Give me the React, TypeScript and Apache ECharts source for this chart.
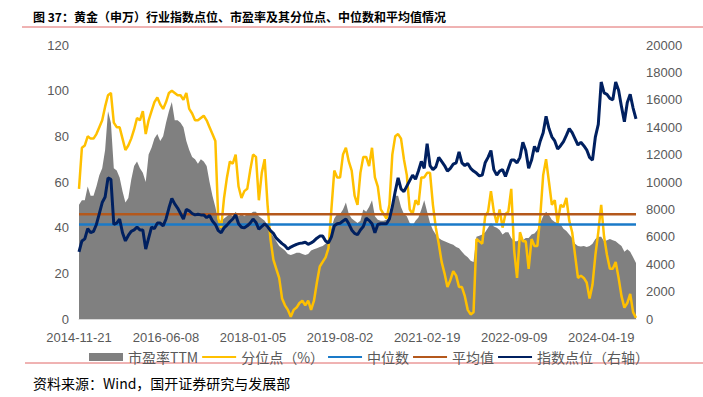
import React, { useEffect, useRef } from "react";
import * as echarts from "echarts";

const titleText = "图 37：黄金（申万）行业指数点位、市盈率及其分位点、中位数和平均值情况";
const sourceText = "资料来源：Wind，国开证券研究与发展部";

const tickLabels = ["2014-11-21", "2016-06-08", "2018-01-05", "2019-08-02", "2021-02-19", "2022-09-09", "2024-04-19"];
const POINTS_PER_SPAN = 30;
const TAIL_POINTS = 12;

const seriesNames = ["市盈率TTM", "分位点（%）", "中位数", "平均值", "指数点位（右轴）"];

// 市盈率TTM (left axis)
const peTTM = [
  50, 52, 52, 58, 54, 54, 58, 63, 66, 74,
  91, 86, 66, 65, 62, 56, 51, 53, 61, 67,
  69, 66, 64, 60, 72, 75, 79, 81, 78, 80,
  86, 91, 95, 87, 87, 86, 84, 78, 74, 71,
  70, 68, 70, 69, 67, 60, 54, 49, 43, 43,
  44, 45, 46, 45, 47, 45, 46, 45, 46, 46,
  47, 47, 45, 44, 43, 41, 38, 36, 34, 32,
  31, 30, 28.5, 28, 28.5, 29, 29, 28.5, 28, 28.5,
  30, 30.5, 31, 31.5, 32, 33, 35, 40, 44, 46,
  46, 48, 51, 46, 44, 43, 42, 43, 48, 47,
  49, 52, 45, 43.5, 43, 43, 43.5, 44.5, 51, 54,
  54, 49, 46, 45, 42, 41, 43, 44.5, 48, 52,
  47, 42, 39, 37, 35.5, 34.6, 34, 33.5, 33, 32.5,
  31.5, 31, 29.5, 28, 27, 25.5, 25, 36, 36.5, 37,
  38, 40, 42, 40.5, 40, 39, 37, 38, 38, 35.5,
  34, 34, 35, 34.5, 35.5, 35.5, 37, 37.5, 39, 42,
  45, 47, 45.5, 43.5, 42.5, 42, 41.5, 39.5, 38.5, 37,
  35.5, 33, 32, 31.7, 32, 31.5, 32, 33, 35, 36,
  36, 34, 34.5, 35, 34.5, 34, 33, 32, 29.5, 30.5,
  29.5, 27, 24.5,
];

// 分位点（%） (left axis)
const percentile = [
  57, 75, 76, 80, 79, 79, 81, 84, 87, 93,
  98, 99, 86, 84, 84, 79, 74, 76, 79, 83,
  88, 87, 91, 81, 87, 91, 95, 97, 94, 92,
  95, 99, 100, 99, 98, 98, 96, 99, 92, 90,
  87, 87, 88, 89, 87, 84, 81, 78, 44, 40,
  53, 62, 69, 68, 72, 58, 53, 56, 57, 65,
  72, 71, 52, 64, 70, 50, 35, 26, 22, 18,
  9, 6, 4, 1, 4, 5, 7, 8, 6, 8,
  4, 8, 16, 23, 25, 27, 31, 48, 65, 62,
  62, 72, 75, 69, 65, 54, 50, 64, 71, 71,
  67, 75, 62, 58, 48, 46, 44, 50, 72, 80,
  81, 79, 70, 63, 48, 46, 52, 50, 62, 62,
  64, 64, 50, 40, 33, 25, 20, 14, 17, 21,
  19, 14, 14, 10, 4, 2, 3, 35, 34, 33,
  45, 47, 56, 47, 42, 48, 40, 46, 47, 57,
  30, 18, 38, 34, 34, 22, 35, 32, 32, 45,
  63, 70, 60, 50, 52, 42, 50, 49, 53, 43,
  38, 28, 18, 19, 18, 16, 9, 15, 28, 38,
  50, 36, 28, 22, 22, 25, 18, 10, 5, 7,
  11, 3, 0.5,
];

// 指数点位 (right axis)
const indexLevel = [
  4900, 5700, 5850, 6600, 6300, 6400, 6900, 7700, 8500, 8900,
  10300, 10200, 6900, 7000, 7300, 6300, 5700, 6100, 6400, 6500,
  6700, 6500, 6500, 5100, 5900, 6700, 6600, 7000, 7000, 6800,
  7300, 8100, 8800, 8400, 8100, 7700, 7300, 8000, 7900, 7700,
  7600, 7650, 7600, 7600, 7400, 7550, 7150, 6900, 6450, 6300,
  6650, 6850, 7100, 7300, 7600, 6950, 6700, 6650, 6800, 7000,
  7300, 7050, 6550, 6750, 6950, 6750, 6450, 6250, 5900, 5700,
  5500, 5350, 5100, 5250, 5350, 5450, 5520, 5550, 5600, 5450,
  5550, 5700, 5900, 6050, 6050, 5700, 5550, 6000, 6800, 6950,
  6990, 7150, 7300, 6950, 6500, 6250, 6150, 6500, 6750, 7350,
  7200, 6950, 6300, 6900, 6950, 6950, 6950, 7300, 8200, 9300,
  10300, 9500, 9300, 9700, 10100, 10500, 10200, 10800, 11500, 11000,
  12800, 11200, 10900, 11100, 11800, 11500, 11200, 10800, 11000, 11300,
  11400, 12200, 11400, 11200, 11350, 11000, 10800, 10650, 10450, 10500,
  11400, 11800, 12300, 10900, 10500, 10800, 10900, 10400, 11000, 11600,
  11600, 11400, 11800, 12900, 12300, 11000, 11600, 12600, 12200, 13000,
  13600, 14800, 13900, 13300, 13000, 12400, 12650, 12950, 13400, 13900,
  13600, 13150, 12700, 12900, 12650, 12350, 11800, 11600, 13300, 14200,
  17300, 16500, 16400, 16100, 16000, 17300, 16700, 15500, 14400, 15800,
  16400, 15400, 14600,
];

const medianValue = 41.4;
const meanValue = 45.9;

function fmtDate(t: number): string {
  const d = new Date(t);
  const m = String(d.getUTCMonth() + 1).padStart(2, "0");
  const day = String(d.getUTCDate()).padStart(2, "0");
  return `${d.getUTCFullYear()}-${m}-${day}`;
}

function buildCategories(): string[] {
  const ts = tickLabels.map((s) => Date.parse(s + "T00:00:00Z"));
  const out: string[] = [];
  for (let k = 0; k < ts.length - 1; k++) {
    for (let j = 0; j < POINTS_PER_SPAN; j++) {
      out.push(fmtDate(ts[k] + ((ts[k + 1] - ts[k]) * j) / POINTS_PER_SPAN));
    }
  }
  const last = ts[ts.length - 1];
  const step = (last - ts[0]) / ((ts.length - 1) * POINTS_PER_SPAN);
  for (let j = 0; j <= TAIL_POINTS; j++) out.push(fmtDate(last + step * j));
  return out;
}

const categories = buildCategories();

const FONT = '"Liberation Sans", "Noto Sans CJK SC", sans-serif';
const CJK = '"Noto Sans CJK SC", "Liberation Sans", sans-serif';

export default function App() {
  const ref = useRef<HTMLDivElement>(null);

  useEffect(() => {
    if (!ref.current) return;
    const chart = echarts.init(ref.current, undefined, { renderer: "svg" });
    const lastIdx = categories.length - 1;
    const hiddenSymbol = { opacity: 0 };
    chart.setOption({
      animation: false,
      backgroundColor: "#ffffff",
      grid: { left: 79, right: 67, top: 45, bottom: 78, containLabel: false },
      legend: {
        left: 84,
        top: 345,
        itemWidth: 34,
        itemHeight: 8,
        itemGap: 3,
        textStyle: { color: "#595959", fontSize: 14, fontFamily: CJK },
        data: [
          { name: seriesNames[0], icon: "rect" },
          { name: seriesNames[1], itemStyle: hiddenSymbol },
          { name: seriesNames[2], itemStyle: hiddenSymbol },
          { name: seriesNames[3], itemStyle: hiddenSymbol },
          { name: seriesNames[4], itemStyle: hiddenSymbol },
        ],
      },
      xAxis: {
        type: "category",
        data: categories,
        boundaryGap: false,
        axisLine: { show: true, lineStyle: { color: "#D9D9D9", width: 1 } },
        axisTick: { show: false },
        splitLine: { show: false },
        axisLabel: {
          interval: POINTS_PER_SPAN - 1,
          color: "#595959",
          fontSize: 13,
          fontFamily: FONT,
          margin: 12,
        },
      },
      yAxis: [
        {
          type: "value",
          min: 0,
          max: 120,
          interval: 20,
          axisLine: { show: false },
          axisTick: { show: false },
          splitLine: { show: false },
          axisLabel: { color: "#595959", fontSize: 13, fontFamily: FONT, margin: 10 },
        },
        {
          type: "value",
          min: 0,
          max: 20000,
          interval: 2000,
          position: "right",
          axisLine: { show: false },
          axisTick: { show: false },
          splitLine: { show: false },
          axisLabel: {
            color: "#595959",
            fontSize: 13,
            fontFamily: FONT,
            margin: 10,
            formatter: (v: number) => String(v),
          },
        },
      ],
      series: [
        {
          name: seriesNames[0],
          type: "line",
          data: peTTM,
          yAxisIndex: 0,
          symbol: "none",
          showSymbol: false,
          color: "#808080",
          lineStyle: { width: 0, color: "#808080" },
          areaStyle: { color: "#808080", opacity: 1 },
        },
        {
          name: seriesNames[1],
          type: "line",
          data: percentile,
          yAxisIndex: 0,
          symbol: "none",
          showSymbol: false,
          color: "#FFC000",
          lineStyle: { width: 2.5, color: "#FFC000" },
        },
        {
          name: seriesNames[2],
          type: "line",
          data: [[0, medianValue], [lastIdx, medianValue]],
          yAxisIndex: 0,
          symbol: "none",
          showSymbol: false,
          color: "#1A7AC8",
          lineStyle: { width: 2.5, color: "#1A7AC8" },
        },
        {
          name: seriesNames[3],
          type: "line",
          data: [[0, meanValue], [lastIdx, meanValue]],
          yAxisIndex: 0,
          symbol: "none",
          showSymbol: false,
          color: "#B4581C",
          lineStyle: { width: 2.5, color: "#B4581C" },
        },
        {
          name: seriesNames[4],
          type: "line",
          data: indexLevel,
          yAxisIndex: 1,
          symbol: "none",
          showSymbol: false,
          color: "#002060",
          lineStyle: { width: 3, color: "#002060" },
        },
      ],
      graphic: [
        {
          type: "text",
          x: 33,
          y: 16,
          style: {
            text: titleText,
            font: `bold 12px ${CJK}`,
            fill: "#000000",
            verticalAlign: "middle",
            textVerticalAlign: "middle",
          },
        },
        {
          type: "line",
          shape: { x1: 22, y1: 27, x2: 703, y2: 27 },
          style: { stroke: "#E06666", lineWidth: 1 },
        },
        {
          type: "line",
          shape: { x1: 25, y1: 363, x2: 703, y2: 363 },
          style: { stroke: "#E06666", lineWidth: 1 },
        },
        {
          type: "text",
          x: 33,
          y: 383,
          style: {
            text: sourceText,
            font: `14px ${CJK}`,
            fill: "#000000",
            verticalAlign: "middle",
            textVerticalAlign: "middle",
          },
        },
      ],
    });
    return () => chart.dispose();
  }, []);

  return (
    <div
      ref={ref}
      style={{ position: "fixed", left: 0, top: 0, width: 703, height: 397, background: "#fff" }}
    />
  );
}
